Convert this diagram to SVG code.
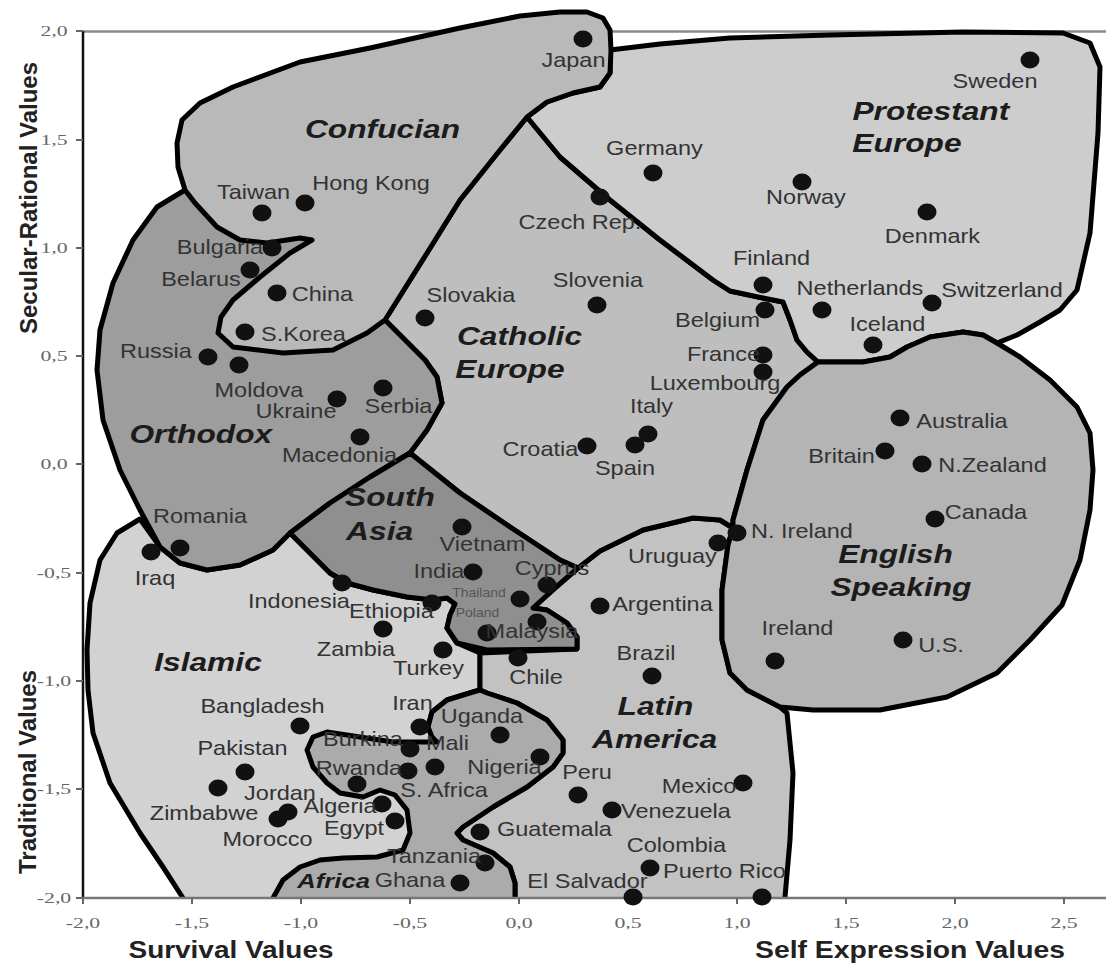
<svg xmlns="http://www.w3.org/2000/svg" width="1106" height="965" viewBox="0 0 1106 965">
<defs>
<clipPath id="plot"><rect x="0" y="0" width="1106" height="898"/></clipPath>
<style>
.r{stroke:#000;stroke-width:5;stroke-linejoin:round;stroke-linecap:round}
.isl{fill:#d2d2d2}.lat{fill:#c2c2c2}.cat{fill:#bebebe}.pro{fill:#cdcdcd}.eng{fill:#b4b4b4}
.ort{fill:#9d9d9d}.con{fill:#b9b9b9}.sas{fill:#8f8f8f}.afr{fill:#ababab}
.rl{font:italic bold 26px "Liberation Sans",Arial,sans-serif;fill:#1c1c1c;text-anchor:middle;transform-box:fill-box;transform-origin:center;transform:scaleX(1.22)}
.rs{font-size:21px}
.c{font:21px "Liberation Sans",Arial,sans-serif;fill:#333;text-anchor:middle;transform-box:fill-box;transform-origin:center;transform:scaleX(1.12)}
.cs{font-size:12.5px;fill:#555}
.d{fill:#111}
.tk{font:15px "Liberation Serif","Times New Roman",serif;fill:#666;text-anchor:middle;transform-box:fill-box;transform-origin:center;transform:scaleX(1.45)}
.ax{font:bold 24px "Liberation Sans",Arial,sans-serif;fill:#222;text-anchor:middle}
.tick{stroke:#666;stroke-width:2}
</style>
</defs>
<rect width="1106" height="965" fill="#fff"/>
<g id="frame-top"><line x1="83" y1="31.5" x2="1106" y2="31.5" stroke="#8a8a8a" stroke-width="2.5"/></g>
<g id="regions" clip-path="url(#plot)">
<g id="islamic"><path class="r isl" d="M140,519 L117,533 L100,560 L90,603 L87,650 L88,690 L93,733 L110,783 L140,833 L163,867 L183,898 L192,912 L420,912 L420,760 L437,742 L432,737 L428,727 L432,712 L447,700 L473,692 L480,690 L480,653 L457,643 L447,628 L450,615 L455,604 L447,598 L433,600 L407,597 L373,590 L347,583 L330,573 L307,550 L290,533 L273,550 L240,565 L207,570 L180,563 L160,547 Z"/><text class="rl" x="208" y="671">Islamic</text></g>
<g id="latin-america"><path class="r lat" d="M533,608 L555,588 L578,568 L600,551 L643,530 L693,518 L720,520 L733,528 L728,545 L722,590 L722,640 L730,673 L747,690 L780,707 L787,713 L793,773 L790,840 L785,897 L785,912 L515,912 L515,883 L510,867 L493,853 L463,840 L457,833 L463,827 L493,807 L527,787 L553,767 L563,753 L563,740 L547,720 L517,703 L487,693 L480,690 L480,653 L577,649 L577,637 L567,623 L547,610 Z"/><text class="rl" x="655.5" y="715">Latin</text><text class="rl" x="654.5" y="748">America</text></g>
<g id="catholic-europe"><path class="r cat" d="M527,117 L560,157 L610,200 L660,240 L713,280 L730,291 L763,298 L783,302 L790,320 L797,340 L807,352 L818,362 L800,375 L787,387 L763,420 L747,470 L733,520 L733,528 L720,520 L693,518 L643,530 L600,551 L578,568 L560,560 L510,527 L460,493 L410,453 L427,430 L442,403 L437,377 L425,360 L405,340 L385,320 L427,253 L460,200 L500,150 Z"/><text class="rl" x="519.5" y="345">Catholic</text><text class="rl" x="510" y="378">Europe</text></g>
<g id="protestant-europe"><path class="r pro" d="M610,50 L660,44 L730,38 L830,35 L963,32 L1063,33 L1090,43 L1100,67 L1098,133 L1090,233 L1077,290 L1060,310 L1040,322 L1017,335 L997,343 L983,335 L963,332 L930,337 L907,347 L890,357 L863,362 L818,362 L807,352 L797,340 L790,320 L783,302 L763,298 L730,291 L713,280 L660,240 L610,200 L560,157 L527,117 L547,102 L573,93 L600,87 L610,73 Z"/><text class="rl" x="931" y="120">Protestant</text><text class="rl" x="907" y="152">Europe</text></g>
<g id="english-speaking"><path class="r eng" d="M818,362 L863,362 L890,357 L907,347 L930,337 L963,332 L983,335 L997,343 L1020,357 L1050,380 L1077,407 L1090,433 L1093,470 L1090,510 L1080,560 L1062,605 L1030,640 L997,673 L947,697 L880,710 L813,710 L780,707 L747,690 L730,673 L722,640 L722,590 L728,545 L733,528 L733,520 L747,470 L763,420 L787,387 L800,375 Z"/><text class="rl" x="895.5" y="563">English</text><text class="rl" x="901" y="596">Speaking</text></g>
<g id="orthodox"><path class="r ort" d="M185,190 L157,207 L133,240 L113,283 L100,330 L97,370 L103,420 L120,470 L140,510 L160,547 L180,563 L207,570 L240,565 L273,550 L290,533 L330,503 L370,477 L410,453 L427,430 L442,403 L437,377 L425,360 L405,340 L385,320 L312,240 Z"/><text class="rl" x="201" y="443">Orthodox</text></g>
<g id="confucian"><path class="r con" d="M185,190 L178,167 L177,143 L182,120 L200,103 L233,87 L300,62 L370,48 L460,28 L520,16 L560,12 L587,12 L603,18 L610,30 L611,50 L610,73 L600,87 L573,93 L547,102 L527,117 L500,150 L460,200 L427,253 L385,320 L367,333 L353,340 L333,350 L283,353 L233,347 L218,333 L221,317 L233,300 L260,277 L290,253 L312,240 L300,238 L267,243 L240,240 L217,227 L195,203 Z"/><text class="rl" x="382.5" y="138">Confucian</text></g>
<g id="south-asia"><path class="r sas" d="M410,453 L460,493 L510,527 L560,560 L578,568 L555,588 L533,608 L547,610 L567,623 L577,637 L577,649 L487,650 L457,643 L447,628 L450,615 L455,604 L447,598 L433,600 L407,597 L373,590 L347,583 L330,573 L307,550 L290,533 L330,503 L370,477 Z"/><text class="rl" x="390" y="506">South</text><text class="rl" x="379.5" y="540">Asia</text></g>
<g id="africa"><path class="r afr" d="M480,690 L487,693 L517,703 L547,720 L563,740 L563,753 L553,767 L527,787 L493,807 L463,827 L457,833 L463,840 L493,853 L510,867 L515,883 L515,912 L266,912 L273,898 L283,880 L300,867 L320,860 L343,858 L377,857 L403,850 L410,833 L407,810 L395,795 L380,790 L363,797 L340,793 L327,783 L313,767 L307,750 L313,737 L327,732 L360,737 L393,742 L437,742 L432,737 L428,727 L432,712 L447,700 L473,692 Z"/><text class="rl rs" x="333.5" y="888">Africa</text></g>
</g>
<g id="axes">
<line x1="83" y1="31" x2="83" y2="898" stroke="#111" stroke-width="2.5"/>
<line x1="83" y1="898" x2="1106" y2="898" stroke="#777" stroke-width="2.5"/>
<g class="tick">
<line x1="76" y1="31" x2="83" y2="31"/><line x1="76" y1="140" x2="83" y2="140"/><line x1="76" y1="248" x2="83" y2="248"/><line x1="76" y1="356" x2="83" y2="356"/><line x1="76" y1="464" x2="83" y2="464"/><line x1="76" y1="573" x2="83" y2="573"/><line x1="76" y1="681" x2="83" y2="681"/><line x1="76" y1="789" x2="83" y2="789"/><line x1="76" y1="898" x2="83" y2="898"/>
<line x1="83" y1="898" x2="83" y2="904"/><line x1="192" y1="898" x2="192" y2="904"/><line x1="301" y1="898" x2="301" y2="904"/><line x1="410" y1="898" x2="410" y2="904"/><line x1="519" y1="898" x2="519" y2="904"/><line x1="628" y1="898" x2="628" y2="904"/><line x1="737" y1="898" x2="737" y2="904"/><line x1="846" y1="898" x2="846" y2="904"/><line x1="955" y1="898" x2="955" y2="904"/><line x1="1064" y1="898" x2="1064" y2="904"/>
</g>
<text class="tk" x="54" y="36">2,0</text><text class="tk" x="54" y="145">1,5</text><text class="tk" x="54" y="253">1,0</text><text class="tk" x="54" y="361">0,5</text><text class="tk" x="54" y="469">0,0</text><text class="tk" x="54" y="578">-0,5</text><text class="tk" x="54" y="686">-1,0</text><text class="tk" x="54" y="794">-1,5</text><text class="tk" x="54" y="903">-2,0</text>
<text class="tk" x="83" y="928">-2,0</text><text class="tk" x="192" y="928">-1,5</text><text class="tk" x="301" y="928">-1,0</text><text class="tk" x="410" y="928">-0,5</text><text class="tk" x="519" y="928">0,0</text><text class="tk" x="628" y="928">0,5</text><text class="tk" x="737" y="928">1,0</text><text class="tk" x="846" y="928">1,5</text><text class="tk" x="955" y="928">2,0</text><text class="tk" x="1064" y="928">2,5</text>
<text class="ax" transform="translate(37,198) rotate(-90)">Secular-Rational Values</text>
<text class="ax" transform="translate(36,772) rotate(-90)">Traditional Values</text>
<text class="ax" x="231" y="958" textLength="205" lengthAdjust="spacingAndGlyphs">Survival Values</text>
<text class="ax" x="910" y="958" textLength="310" lengthAdjust="spacingAndGlyphs">Self Expression Values</text>
</g>
<g id="countries">
<g id="japan"><ellipse class="d" cx="583" cy="39" rx="9.5" ry="8.5"/><text class="c" x="573.5" y="67">Japan</text></g>
<g id="sweden"><ellipse class="d" cx="1030" cy="60" rx="9.5" ry="8.5"/><text class="c" x="995" y="88">Sweden</text></g>
<g id="germany"><ellipse class="d" cx="653" cy="173" rx="9.5" ry="8.5"/><text class="c" x="654.5" y="155">Germany</text></g>
<g id="czech"><ellipse class="d" cx="600" cy="197" rx="9.5" ry="8.5"/><text class="c" x="580" y="229">Czech Rep.</text></g>
<g id="taiwan"><ellipse class="d" cx="262" cy="213" rx="9.5" ry="8.5"/><text class="c" x="253.5" y="199">Taiwan</text></g>
<g id="hongkong"><ellipse class="d" cx="305" cy="203" rx="9.5" ry="8.5"/><text class="c" x="371" y="190">Hong Kong</text></g>
<g id="norway"><ellipse class="d" cx="802" cy="182" rx="9.5" ry="8.5"/><text class="c" x="806" y="204">Norway</text></g>
<g id="denmark"><ellipse class="d" cx="927" cy="212" rx="9.5" ry="8.5"/><text class="c" x="932.5" y="243">Denmark</text></g>
<g id="bulgaria"><ellipse class="d" cx="272" cy="248" rx="9.5" ry="8.5"/><text class="c" x="220" y="254">Bulgaria</text></g>
<g id="belarus"><ellipse class="d" cx="250" cy="270" rx="9.5" ry="8.5"/><text class="c" x="201" y="286">Belarus</text></g>
<g id="china"><ellipse class="d" cx="277" cy="293" rx="9.5" ry="8.5"/><text class="c" x="322.5" y="301">China</text></g>
<g id="finland"><ellipse class="d" cx="763" cy="285" rx="9.5" ry="8.5"/><text class="c" x="771.5" y="265">Finland</text></g>
<g id="slovenia"><ellipse class="d" cx="597" cy="305" rx="9.5" ry="8.5"/><text class="c" x="598" y="287">Slovenia</text></g>
<g id="netherlands"><ellipse class="d" cx="822" cy="310" rx="9.5" ry="8.5"/><text class="c" x="860" y="295">Netherlands</text></g>
<g id="switzerland"><ellipse class="d" cx="932" cy="303" rx="9.5" ry="8.5"/><text class="c" x="1002" y="297">Switzerland</text></g>
<g id="slovakia"><ellipse class="d" cx="425" cy="318" rx="9.5" ry="8.5"/><text class="c" x="471" y="302">Slovakia</text></g>
<g id="belgium"><ellipse class="d" cx="765" cy="310" rx="9.5" ry="8.5"/><text class="c" x="717.5" y="327">Belgium</text></g>
<g id="iceland"><ellipse class="d" cx="873" cy="345" rx="9.5" ry="8.5"/><text class="c" x="887.5" y="331">Iceland</text></g>
<g id="skorea"><ellipse class="d" cx="245" cy="332" rx="9.5" ry="8.5"/><text class="c" x="303.5" y="341">S.Korea</text></g>
<g id="russia"><ellipse class="d" cx="208" cy="357" rx="9.5" ry="8.5"/><text class="c" x="156" y="358">Russia</text></g>
<g id="moldova"><ellipse class="d" cx="239" cy="365" rx="9.5" ry="8.5"/><text class="c" x="259" y="397">Moldova</text></g>
<g id="france"><ellipse class="d" cx="763" cy="355" rx="9.5" ry="8.5"/><text class="c" x="723.5" y="361">France</text></g>
<g id="luxembourg"><ellipse class="d" cx="763" cy="372" rx="9.5" ry="8.5"/><text class="c" x="715" y="390">Luxembourg</text></g>
<g id="serbia"><ellipse class="d" cx="383" cy="388" rx="9.5" ry="8.5"/><text class="c" x="398.5" y="413">Serbia</text></g>
<g id="ukraine"><ellipse class="d" cx="337" cy="399" rx="9.5" ry="8.5"/><text class="c" x="296" y="418">Ukraine</text></g>
<g id="italy"><ellipse class="d" cx="648" cy="434" rx="9.5" ry="8.5"/><text class="c" x="651.5" y="413">Italy</text></g>
<g id="spain"><ellipse class="d" cx="635" cy="445" rx="9.5" ry="8.5"/><text class="c" x="625" y="475">Spain</text></g>
<g id="croatia"><ellipse class="d" cx="587" cy="446" rx="9.5" ry="8.5"/><text class="c" x="540.5" y="456">Croatia</text></g>
<g id="macedonia"><ellipse class="d" cx="360" cy="437" rx="9.5" ry="8.5"/><text class="c" x="339.5" y="462">Macedonia</text></g>
<g id="australia"><ellipse class="d" cx="900" cy="418" rx="9.5" ry="8.5"/><text class="c" x="962" y="428">Australia</text></g>
<g id="britain"><ellipse class="d" cx="885" cy="451" rx="9.5" ry="8.5"/><text class="c" x="841.5" y="463">Britain</text></g>
<g id="nzealand"><ellipse class="d" cx="922" cy="464" rx="9.5" ry="8.5"/><text class="c" x="992.5" y="472">N.Zealand</text></g>
<g id="canada"><ellipse class="d" cx="935" cy="519" rx="9.5" ry="8.5"/><text class="c" x="986" y="519">Canada</text></g>
<g id="nireland"><ellipse class="d" cx="737" cy="533" rx="9.5" ry="8.5"/><text class="c" x="802" y="538">N. Ireland</text></g>
<g id="uruguay"><ellipse class="d" cx="718" cy="543" rx="9.5" ry="8.5"/><text class="c" x="672.5" y="563">Uruguay</text></g>
<g id="romania"><ellipse class="d" cx="180" cy="548" rx="9.5" ry="8.5"/><text class="c" x="200" y="523">Romania</text></g>
<g id="iraq"><ellipse class="d" cx="151" cy="552" rx="9.5" ry="8.5"/><text class="c" x="155" y="585">Iraq</text></g>
<g id="vietnam"><ellipse class="d" cx="462" cy="527" rx="9.5" ry="8.5"/><text class="c" x="482.5" y="551">Vietnam</text></g>
<g id="india"><ellipse class="d" cx="473" cy="572" rx="9.5" ry="8.5"/><text class="c" x="439" y="578">India</text></g>
<g id="cyprus"><ellipse class="d" cx="547" cy="585" rx="9.5" ry="8.5"/><text class="c" x="552" y="575">Cyprus</text></g>
<g id="thailand"><ellipse class="d" cx="520" cy="599" rx="9.5" ry="8.5"/><text class="c cs" x="479" y="597">Thailand</text></g>
<g id="indonesia"><ellipse class="d" cx="342" cy="583" rx="9.5" ry="8.5"/><text class="c" x="299" y="608">Indonesia</text></g>
<g id="ethiopia"><ellipse class="d" cx="432" cy="603" rx="9.5" ry="8.5"/><text class="c" x="391.5" y="618">Ethiopia</text></g>
<g id="argentina"><ellipse class="d" cx="600" cy="606" rx="9.5" ry="8.5"/><text class="c" x="662.5" y="611">Argentina</text></g>
<g id="poland"><ellipse class="d" cx="537" cy="622" rx="9.5" ry="8.5"/><text class="c cs" x="477.5" y="617">Poland</text></g>
<g id="malaysia"><ellipse class="d" cx="487" cy="633" rx="9.5" ry="8.5"/><text class="c" x="532" y="638">Malaysia</text></g>
<g id="zambia"><ellipse class="d" cx="383" cy="629" rx="9.5" ry="8.5"/><text class="c" x="356" y="656">Zambia</text></g>
<g id="turkey"><ellipse class="d" cx="443" cy="650" rx="9.5" ry="8.5"/><text class="c" x="428.5" y="675">Turkey</text></g>
<g id="chile"><ellipse class="d" cx="518" cy="658" rx="9.5" ry="8.5"/><text class="c" x="536" y="684">Chile</text></g>
<g id="brazil"><ellipse class="d" cx="652" cy="676" rx="9.5" ry="8.5"/><text class="c" x="646" y="660">Brazil</text></g>
<g id="ireland"><ellipse class="d" cx="775" cy="661" rx="9.5" ry="8.5"/><text class="c" x="797.5" y="635">Ireland</text></g>
<g id="us"><ellipse class="d" cx="903" cy="640" rx="9.5" ry="8.5"/><text class="c" x="941" y="652">U.S.</text></g>
<g id="bangladesh"><ellipse class="d" cx="300" cy="726" rx="9.5" ry="8.5"/><text class="c" x="262.5" y="713">Bangladesh</text></g>
<g id="iran"><ellipse class="d" cx="420" cy="727" rx="9.5" ry="8.5"/><text class="c" x="412.5" y="710">Iran</text></g>
<g id="uganda"><ellipse class="d" cx="500" cy="735" rx="9.5" ry="8.5"/><text class="c" x="482" y="723">Uganda</text></g>
<g id="burkina"><ellipse class="d" cx="410" cy="749" rx="9.5" ry="8.5"/><text class="c" x="363" y="746">Burkina</text></g>
<g id="mali"><ellipse class="d" cx="435" cy="767" rx="9.5" ry="8.5"/><text class="c" x="447.5" y="750">Mali</text></g>
<g id="safrica"><ellipse class="d" cx="408" cy="771" rx="9.5" ry="8.5"/><text class="c" x="444" y="797">S. Africa</text></g>
<g id="rwanda"><ellipse class="d" cx="357" cy="784" rx="9.5" ry="8.5"/><text class="c" x="359" y="775">Rwanda</text></g>
<g id="nigeria"><ellipse class="d" cx="540" cy="757" rx="9.5" ry="8.5"/><text class="c" x="504.5" y="774">Nigeria</text></g>
<g id="pakistan"><ellipse class="d" cx="245" cy="772" rx="9.5" ry="8.5"/><text class="c" x="242.5" y="755">Pakistan</text></g>
<g id="jordan"><ellipse class="d" cx="218" cy="788" rx="9.5" ry="8.5"/><text class="c" x="280" y="800">Jordan</text></g>
<g id="peru"><ellipse class="d" cx="578" cy="795" rx="9.5" ry="8.5"/><text class="c" x="587" y="779">Peru</text></g>
<g id="mexico"><ellipse class="d" cx="743" cy="783" rx="9.5" ry="8.5"/><text class="c" x="699" y="793">Mexico</text></g>
<g id="algeria"><ellipse class="d" cx="382" cy="804" rx="9.5" ry="8.5"/><text class="c" x="340" y="813">Algeria</text></g>
<g id="venezuela"><ellipse class="d" cx="612" cy="810" rx="9.5" ry="8.5"/><text class="c" x="676" y="818">Venezuela</text></g>
<g id="zimbabwe"><ellipse class="d" cx="288" cy="812" rx="9.5" ry="8.5"/><text class="c" x="204" y="820">Zimbabwe</text></g>
<g id="morocco"><ellipse class="d" cx="278" cy="819" rx="9.5" ry="8.5"/><text class="c" x="267.5" y="846">Morocco</text></g>
<g id="egypt"><ellipse class="d" cx="395" cy="821" rx="9.5" ry="8.5"/><text class="c" x="354" y="835">Egypt</text></g>
<g id="guatemala"><ellipse class="d" cx="480" cy="832" rx="9.5" ry="8.5"/><text class="c" x="554.5" y="836">Guatemala</text></g>
<g id="colombia"><ellipse class="d" cx="762" cy="897" rx="9.5" ry="8.5"/><text class="c" x="676.5" y="852">Colombia</text></g>
<g id="tanzania"><ellipse class="d" cx="485" cy="863" rx="9.5" ry="8.5"/><text class="c" x="434" y="863">Tanzania</text></g>
<g id="puertorico"><ellipse class="d" cx="650" cy="868" rx="9.5" ry="8.5"/><text class="c" x="724.5" y="878">Puerto Rico</text></g>
<g id="ghana"><ellipse class="d" cx="460" cy="883" rx="9.5" ry="8.5"/><text class="c" x="410" y="887">Ghana</text></g>
<g id="elsalvador"><ellipse class="d" cx="633" cy="897" rx="9.5" ry="8.5"/><text class="c" x="587.5" y="888">El Salvador</text></g>
</g>
</svg>
